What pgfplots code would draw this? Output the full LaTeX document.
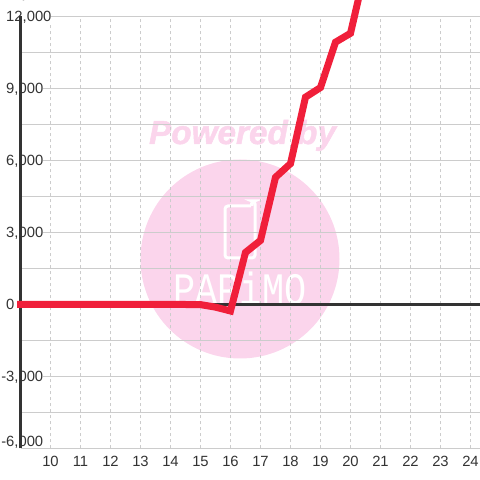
\documentclass[border=0pt]{standalone}
\usepackage{fontspec}
\setmainfont{Liberation Sans}
\newfontfamily\wmono{Liberation Mono}
\newfontfamily\wmf[FakeBold=1.5]{Liberation Sans Bold Italic}
\usepackage{pgfplots}
\pgfplotsset{compat=1.18}
\definecolor{wm}{HTML}{FBD5EC}
\definecolor{gridc}{HTML}{CCCCCC}
\definecolor{dk}{HTML}{333333}
\definecolor{rd}{HTML}{F01F3A}
\newcommand{\tl}{\fontsize{14.8}{14.8}\selectfont}
\newcommand{\negsix}{\llap{-}6{,}000}
\begin{document}
\begin{tikzpicture}[x=1pt,y=1pt]
\useasboundingbox (0,0) rectangle (480,480);
\clip (0,0) rectangle (480,480);
% watermark (pixel y measured from the top: 480-y)
\fill[wm] (240,221) circle (99.5);
\node[text=wm,anchor=base,inner sep=0] at (242.5,336) {\fontsize{33.3}{33.3}\selectfont\wmf Powered by};
\draw[white,line width=3pt,rounded corners=3pt] (251,274) -- (225,274) -- (225,222) -- (255,222) -- (255,279) -- (251.5,279) -- (251.5,274);
\node[white,anchor=base,inner sep=0,xscale=0.82] at (240,175) {\fontsize{45}{45}\selectfont\wmono PAPiMO};
\begin{axis}[
  at={(20.5pt,31.5pt)},anchor=south west,
  scale only axis,width=459.5pt,height=432pt,
  xmin=9,xmax=24.3167,ymin=-6000,ymax=12000,
  clip=false,
  axis line style={draw=none},
  major tick length=0pt,minor tick length=0pt,
  xtick={10,...,24},
  xticklabels={10,11,12,13,14,15,16,17,18,19,20,21,22,23,24},
  ytick={-3000,0,3000,6000,9000,12000},
  yticklabels={{\llap{-}3,000},{0},{3,000},{6,000},{9,000},{12,000}},
  minor ytick={-4500,-1500,1500,4500,7500,10500},
  extra y ticks={-6000},
  extra y tick labels={\negsix},
  extra y tick style={yticklabel style={yshift=6.5pt}},
  xmajorgrids,ymajorgrids,yminorgrids,
  x grid style={gridc,line width=1pt,dash pattern=on 3pt off 3pt},
  y grid style={gridc,line width=1.2pt},
  xticklabel style={font=\tl,text=dk,anchor=base,yshift=-18.5pt,inner sep=0pt},
  yticklabel style={font=\tl,text=dk,anchor=west,xshift=-14.5pt,inner sep=0pt,fill=white,text height=13pt,text depth=3pt},
]
\draw[gridc,line width=1.2pt] (axis cs:9,-6000) -- (axis cs:24.3167,-6000);
\draw[dk,line width=3pt] (axis cs:9,0) -- (axis cs:24.3167,0);
\draw[dk,line width=3pt] (axis cs:9,-6000) -- (axis cs:9,12000);
\addplot[rd,line width=7pt,line cap=rect,line join=miter,mark=none] coordinates {
(9,0)(9.5,0)(10,0)(10.5,0)(11,0)(11.5,0)(12,0)(12.5,0)(13,0)(13.5,0)(14,0)(14.5,0)
(15,-5)(15.5,-110)(16,-270)(16.5,2170)(17,2670)(17.5,5300)(18,5870)(18.5,8640)(19,9040)(19.5,10930)(20,11300)(20.5,14000)};
\end{axis}
\end{tikzpicture}
\end{document}
